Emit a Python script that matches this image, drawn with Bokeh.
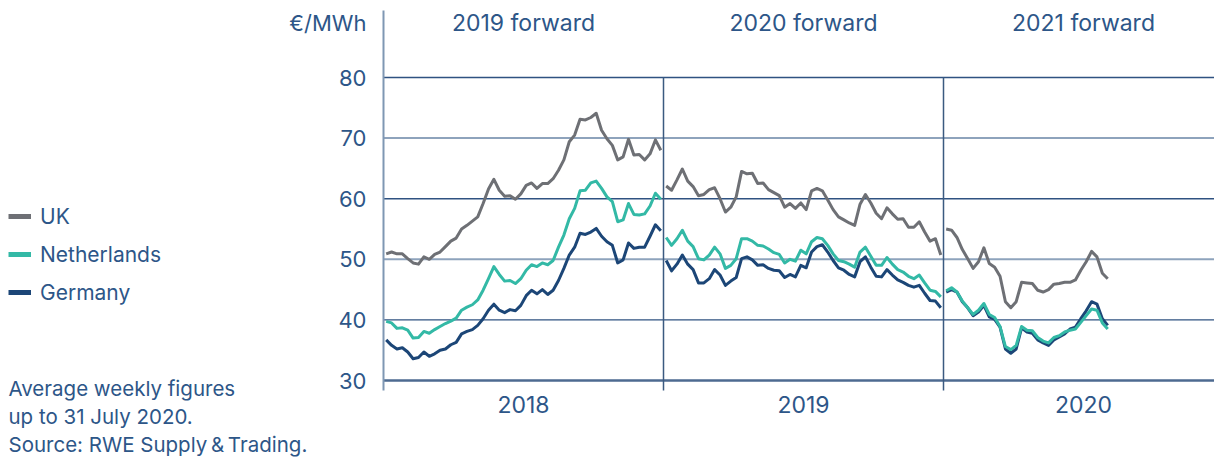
from bokeh.plotting import figure
from bokeh.models import Range1d, FixedTicker, Legend, LegendItem, LinearAxis
from bokeh.embed import file_html
from bokeh.resources import INLINE
from bokeh.core.properties import value

# ---------------- data ----------------
years = [2018, 2019, 2020]
year_labels = ["2018", "2019", "2020"]
contract_labels = ["2019 forward", "2020 forward", "2021 forward"]
y_ticks = [30, 40, 50, 60, 70, 80]
dark_grid_ticks = [40, 60, 80]
light_grid_ticks = [50, 70]
unit_label = "€/MWh"
series_names = ["UK", "Netherlands", "Germany"]
footnote = ["Average weekly figures", "up to 31 July 2020.", "Source: RWE Supply\u2009&\u2009Trading."]

uk_2018 = [50.9, 51.2, 50.9, 50.9, 50.1, 49.4, 49.2, 50.4, 50.0, 50.8, 51.2, 52.1, 53.0, 53.5, 55.0, 55.6,
           56.3, 57.0, 59.2, 61.6, 63.2, 61.4, 60.4, 60.5, 59.9, 60.8, 62.2, 62.6, 61.7, 62.5, 62.5, 63.3,
           64.7, 66.4, 69.4, 70.5, 73.1, 73.0, 73.4, 74.1, 71.3, 69.9, 68.8, 66.4, 66.9, 69.8, 67.2, 67.3,
           66.4, 67.4, 69.7, 68.0]
nl_2018 = [39.75, 39.5, 38.6, 38.7, 38.3, 37.0, 37.1, 38.1, 37.8, 38.4, 38.9, 39.4, 39.8, 40.3, 41.6, 42.1,
           42.5, 43.3, 44.9, 46.8, 48.8, 47.5, 46.4, 46.5, 46.0, 46.8, 48.2, 49.1, 48.8, 49.4, 49.1, 49.8,
           52.0, 54.0, 56.7, 58.4, 61.3, 61.4, 62.6, 62.9, 61.7, 60.3, 59.5, 56.2, 56.5, 59.2, 57.4, 57.3,
           57.5, 58.8, 60.9, 59.9]
de_2018 = [36.7, 35.8, 35.2, 35.4, 34.7, 33.6, 33.8, 34.7, 34.0, 34.4, 35.0, 35.2, 35.9, 36.3, 37.7, 38.1,
           38.4, 39.1, 40.2, 41.6, 42.6, 41.6, 41.2, 41.7, 41.5, 42.4, 44.0, 44.9, 44.3, 45.0, 44.2, 44.9,
           46.5, 48.5, 50.7, 52.0, 54.3, 54.1, 54.5, 55.1, 53.8, 52.9, 52.3, 49.4, 49.9, 52.7, 51.8, 52.0,
           52.0, 53.8, 55.7, 54.7]

uk_2019 = [62.1, 61.4, 63.1, 64.9, 62.9, 62.0, 60.5, 60.7, 61.5, 61.8, 60.0, 57.8, 58.6, 60.3, 64.5, 64.1,
           64.2, 62.5, 62.6, 61.5, 61.0, 60.5, 58.6, 59.2, 58.4, 59.3, 58.2, 61.3, 61.7, 61.3, 59.8, 58.2,
           57.0, 56.5, 56.0, 55.6, 59.1, 60.7, 59.3, 57.6, 56.7, 58.5, 57.5, 56.6, 56.7, 55.3, 55.3, 56.2,
           54.5, 53.0, 53.4, 50.7]
nl_2019 = [53.6, 52.3, 53.4, 54.8, 53.0, 52.1, 50.1, 49.9, 50.7, 52.0, 50.9, 48.5, 49.0, 50.1, 53.4, 53.4,
           53.0, 52.3, 52.2, 51.7, 51.1, 50.8, 49.4, 50.0, 49.7, 51.5, 50.9, 52.9, 53.6, 53.4, 52.3, 50.9,
           49.8, 49.6, 49.2, 48.7, 51.2, 52.0, 50.5, 49.0, 49.0, 50.3, 49.2, 48.3, 47.9, 47.2, 46.8, 47.4,
           46.1, 44.9, 44.7, 43.8]
de_2019 = [49.8, 48.1, 49.2, 50.7, 49.2, 48.3, 46.1, 46.1, 46.8, 48.3, 47.4, 45.7, 46.4, 47.0, 50.1, 50.4,
           49.9, 49.0, 49.1, 48.5, 48.2, 48.1, 47.0, 47.5, 47.1, 49.0, 48.6, 51.2, 52.1, 52.4, 51.2, 49.8,
           48.6, 48.2, 47.5, 47.1, 49.6, 50.4, 48.7, 47.2, 47.1, 48.3, 47.4, 46.6, 46.2, 45.7, 45.4, 45.7,
           44.4, 43.2, 43.1, 42.0]

uk_2020 = [55.0, 54.8, 53.6, 51.6, 50.1, 48.5, 49.6, 51.9, 49.3, 48.7, 47.2, 43.0, 42.0, 43.0, 46.2, 46.1,
           46.0, 44.9, 44.6, 45.0, 45.9, 46.0, 46.2, 46.2, 46.6, 48.2, 49.6, 51.3, 50.4, 47.7, 46.8]
nl_2020 = [44.8, 45.3, 44.6, 43.1, 42.0, 40.9, 41.6, 42.7, 40.9, 40.4, 38.9, 35.6, 35.1, 35.8, 38.9, 38.3,
           38.2, 37.1, 36.5, 36.2, 37.1, 37.4, 38.0, 38.3, 38.5, 39.6, 40.7, 41.8, 41.6, 39.5, 38.5]
de_2020 = [44.6, 45.0, 44.6, 43.0, 42.0, 40.7, 41.3, 42.4, 40.5, 40.1, 38.8, 35.2, 34.5, 35.2, 38.7, 38.0,
           37.8, 36.7, 36.2, 35.8, 36.7, 37.2, 37.7, 38.5, 38.8, 40.2, 41.5, 43.0, 42.6, 40.2, 39.1]

# ---------------- styling / layout ----------------
FONT = "Inter"
TXT = "#2d5688"
COL_UK = "#6e7075"
COL_NL = "#33b9a6"
COL_DE = "#1c4677"

W, H = 1214, 459
FRAME_L, FRAME_T, FRAME_B = 383, 10, 390       # canvas px of the chart box
PX_PER_YEAR = 280.0
PX_PER_UNIT = 6.06
Y30 = 380
BASE_SHIFT = 9   # alphabetic baseline correction (px)

def xd(px):
    return years[0] + (px - FRAME_L) / PX_PER_YEAR

def yd(py):
    return y_ticks[0] + (Y30 - py) / PX_PER_UNIT

def yb(py):
    # data y for a text baseline at canvas px py
    return yd(py - BASE_SHIFT)

p = figure(width=W, height=H, output_backend="svg", toolbar_location=None,
           x_range=Range1d(xd(0), xd(W)), y_range=Range1d(yd(H), yd(0)),
           x_axis_location=None, y_axis_location=None,
           min_border=0, min_border_left=0, min_border_right=0,
           min_border_top=0, min_border_bottom=0)
p.outline_line_color = None
p.background_fill_color = "white"
p.border_fill_color = "white"
p.grid.visible = False

x_left, x_right = years[0], xd(W)
y_bottom, y_top = yd(FRAME_B), yd(FRAME_T)

# horizontal grid lines (alternating tones) and base line
p.segment(x0=x_left, x1=x_right, y0=dark_grid_ticks, y1=dark_grid_ticks,
          line_color="#2f5281", line_width=1.4)
p.segment(x0=x_left, x1=x_right, y0=light_grid_ticks, y1=light_grid_ticks,
          line_color="#8ea3bc", line_width=2)
p.segment(x0=x_left, x1=x_right, y0=[y_ticks[0]], y1=[y_ticks[0]],
          line_color="#4d6a90", line_width=2.5)

# left spine and year dividers
p.segment(x0=[years[0]], x1=[years[0]], y0=[y_bottom], y1=[y_top],
          line_color="#7f97b3", line_width=2)
p.segment(x0=years[1:], y0=[y_bottom] * 2, x1=years[1:], y1=[y_ticks[-1]] * 2,
          line_color="#3b5a80", line_width=1.5)

# y axis (fixed at the chart's left edge)
yax = LinearAxis(fixed_location=years[0], ticker=FixedTicker(ticks=y_ticks))
yax.axis_line_color = None
yax.major_tick_line_color = None
yax.minor_tick_line_color = None
yax.major_tick_out = 0
yax.major_tick_in = 0
yax.major_label_standoff = 17
yax.major_label_text_font = FONT
yax.major_label_text_font_size = "22px"
yax.major_label_text_color = TXT
p.add_layout(yax, "left")

# x axis: year labels centred in each year
mids = [y + 0.5 for y in years]
xax = LinearAxis(fixed_location=y_bottom, ticker=FixedTicker(ticks=mids),
                 major_label_overrides={m: lab for m, lab in zip(mids, year_labels)})
xax.axis_line_color = None
xax.major_tick_line_color = None
xax.minor_tick_line_color = None
xax.major_tick_out = 0
xax.major_tick_in = 0
xax.major_label_standoff = 5
xax.major_label_text_font = FONT
xax.major_label_text_font_size = "23px"
xax.major_label_text_color = TXT
p.add_layout(xax, "below")

# series
def seg_x(year, n):
    return [year + (i + 0.5) / 52.0 for i in range(n)]

series = {
    "UK": ([uk_2018, uk_2019, uk_2020], COL_UK),
    "Germany": ([de_2018, de_2019, de_2020], COL_DE),
    "Netherlands": ([nl_2018, nl_2019, nl_2020], COL_NL),
}
for name in ["UK", "Germany", "Netherlands"]:
    segs, col = series[name]
    p.multi_line(xs=[seg_x(yr, len(s)) for yr, s in zip(years, segs)], ys=segs,
                 line_color=col, line_width=3, line_join="round")

# header texts
p.text(x=mids, y=[yb(31)] * 3, text=contract_labels, text_font=value(FONT),
       text_font_size="23px", text_color=TXT, text_align="center", text_baseline="alphabetic")
p.text(x=[xd(366)], y=[yb(31)], text=[unit_label], text_font=value(FONT),
       text_font_size="22px", text_color=TXT, text_align="right", text_baseline="alphabetic")

# legend (swatch renderers hold one undrawn point so that the legend glyph is drawn)
colors = {"UK": COL_UK, "Netherlands": COL_NL, "Germany": COL_DE}
items = []
for name in series_names:
    r = p.line(x=[years[0], years[0]], y=[float("nan"), float("nan")],
               line_color=colors[name], line_width=5)
    items.append(LegendItem(label=name, renderers=[r]))
legend = Legend(items=items, location=(8, H - 307),
                orientation="vertical", border_line_color=None, background_fill_alpha=0,
                padding=0, margin=0, spacing=8, glyph_width=23, glyph_height=30,
                label_height=30, label_standoff=9, label_text_font=FONT,
                label_text_font_size="21px", label_text_color=TXT)
p.add_layout(legend)

# footnote
p.text(x=[xd(8)] * len(footnote), y=[yb(397 + 28 * i) for i in range(len(footnote))],
       text=footnote, text_font=value(FONT), text_font_size="20.5px", text_color=TXT,
       text_align="left", text_baseline="alphabetic")

open("out.html", "w").write(file_html(p, INLINE))
